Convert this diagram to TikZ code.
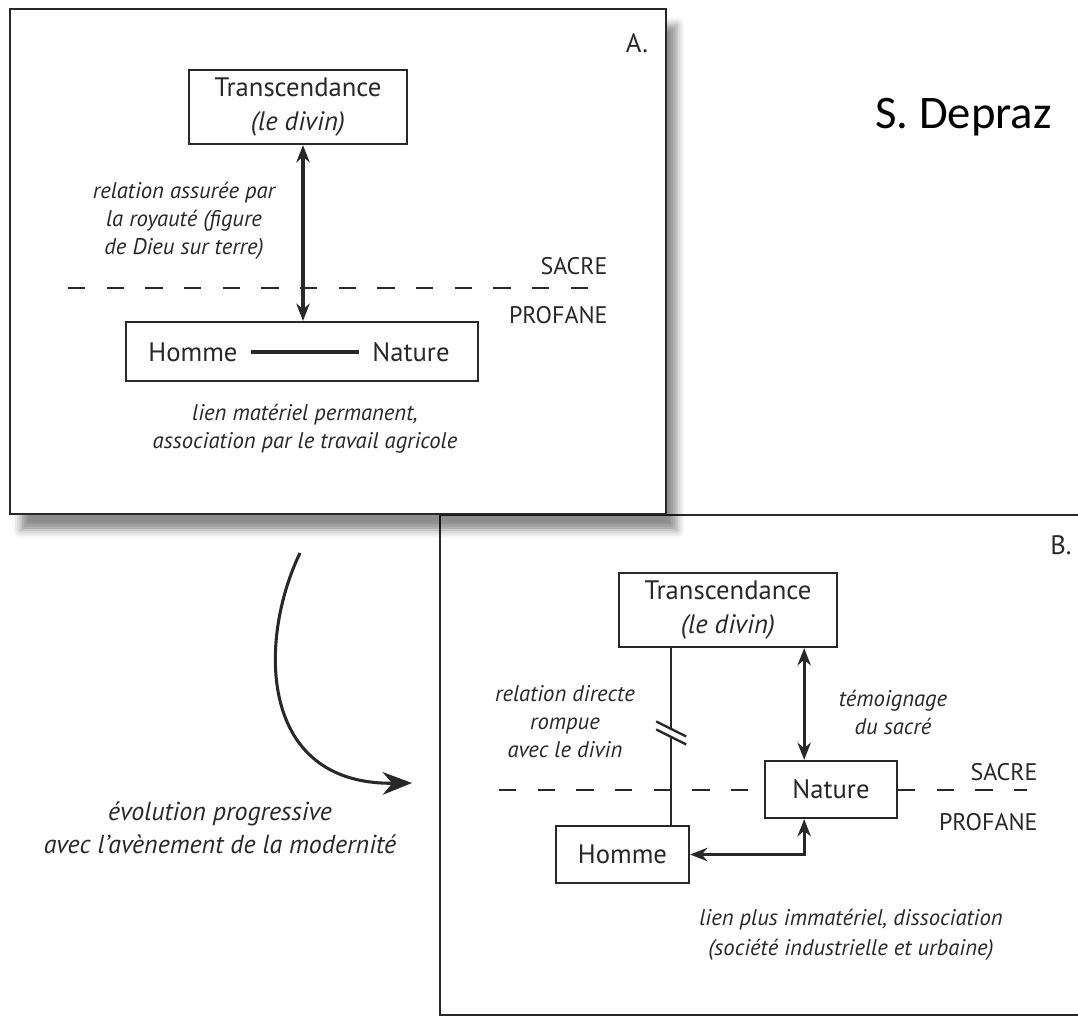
\documentclass[tikz,border=0pt]{standalone}
\usepackage{fontspec}
\setmainfont{PT Sans}
\newfontfamily\signfont{Carlito}
\usetikzlibrary{arrows.meta,calc,shadows.blur}
\definecolor{ink}{RGB}{40,40,40}
\tikzset{every picture/.style={line width=1.5pt}}

\begin{document}
\begin{tikzpicture}[x=0.75pt,y=0.75pt,yscale=-1,xscale=1,
    >={Stealth[length=13pt,width=10pt]},
    box/.style={draw=ink, fill=white, line width=1.6pt, inner sep=0pt, align=center, text=ink, font=\fontsize{20}{25.5}\selectfont},
    word/.style={text=ink, font=\fontsize{20}{24}\selectfont},
    note/.style={align=center, text=ink, font=\fontsize{17}{21}\selectfont\itshape},
    zone/.style={anchor=east, text=ink, font=\fontsize{18}{21}\selectfont},
    sep/.style={draw=ink, line width=1.5pt, dash pattern=on 13pt off 16pt},
    link/.style={draw=ink, line width=2.3pt}]
\useasboundingbox (0,0) rectangle (1078,1020);

% frame B (behind A)
\draw[ink, line width=1.6pt] (1100,515) -- (440,515) -- (440,1015) -- (1100,1015);

% frame A with its shadow
\draw[ink, line width=1.6pt, fill=white, blur shadow={shadow xshift=8pt, shadow yshift=-12pt, shadow blur radius=6pt, shadow opacity=45}] (10,9) rectangle (666,514);

% ---- A ----
\node[box, minimum width=163.5pt, minimum height=55.5pt] (transA) at (298,107) {Transcendance\\\textit{(le divin)}};
\node[box, minimum width=264pt, minimum height=44.25pt] (pairA) at (302,351.5) {};
\node[word] (homA) at (193,352) {Homme};
\node[word] (natA) at (411,352) {Nature};
\draw[link, shorten <=6pt, shorten >=6pt] (homA) -- (natA);

\draw[sep] (68,288) -- (600,288);
\draw[link, <->] ($(transA.south)+(5,0)$) -- ($(transA.south |- pairA.north)+(5,0)$);

\node[zone] (sacA) at (613,266) {SACRE};
\node[zone] (profA) at (613,315) {PROFANE};
\node[note] (royA) at (184,221) {relation assurée par\\la royauté (figure\\de Dieu sur terre)};
\node[note] (lienA) at (305,429) {lien matériel permanent,\\association par le travail agricole};
\node[word] (labA) at (637,43) {A.};

% ---- evolution ----
\coordinate (evS) at (300,553);
\coordinate (evE) at (412,783);
\draw[link, -{Stealth[length=22pt,width=17pt]}] (evS) .. controls (258,640) and (258,785) .. (evE);
\node[note, font=\fontsize{19.5}{25}\selectfont\itshape] (evoT) at (220,828) {évolution progressive\\avec l'avènement de la modernité};

% ---- B ----
\node[box, minimum width=163.5pt, minimum height=55.5pt] (transB) at (728,610) {Transcendance\\\textit{(le divin)}};
\node[box, minimum width=99pt, minimum height=42.75pt] (natB) at (831,789.5) {Nature};
\node[box, minimum width=99.75pt, minimum height=42.75pt] (homB) at (622.5,854.5) {Homme};

\draw[sep] (499,789.5) -- (natB.west);
\draw[sep] (natB.east) -- (1027,789.5);

\coordinate (brkB) at ($(homB.north west)!0.86!(homB.north east)$);
\coordinate (cut) at ($(transB.south -| brkB)!0.48!(brkB)$);
\draw[link, line width=1.8pt] (transB.south -| brkB) -- (brkB);
\draw[white, line width=6pt] ($(cut)+(-13,-6.5)$) -- ($(cut)+(13,6.5)$);
\foreach \d in {-4,4}
    \draw[link, line width=1.8pt] ($(cut)+(-15,-7.5+\d)$) -- ($(cut)+(15,7.5+\d)$);

\coordinate (tieB) at ($(natB.south west)!0.3!(natB.south east)$);
\draw[link, <->] (transB.south -| tieB) -- (natB.north -| tieB);
\draw[link, <->] (homB.east) -| (tieB);

\node[note] (cutT) at (565,722) {relation directe\\rompue\\avec le divin};
\node[note] (witT) at (893,712) {témoignage\\du sacré};
\node[zone] (sacB) at (1043,772) {SACRE};
\node[zone] (profB) at (1043,822) {PROFANE};
\node[note, font=\fontsize{17}{22.5}\selectfont\itshape] (lienB) at (851,935) {lien plus immatériel, dissociation\\(société industrielle et urbaine)};
\node[word, anchor=east] (labB) at (1077,545) {B.};

% signature
\node[anchor=west, font=\signfont\fontsize{35}{40}\selectfont] (sign) at (870,117) {S. Depraz};
\end{tikzpicture}
\end{document}
